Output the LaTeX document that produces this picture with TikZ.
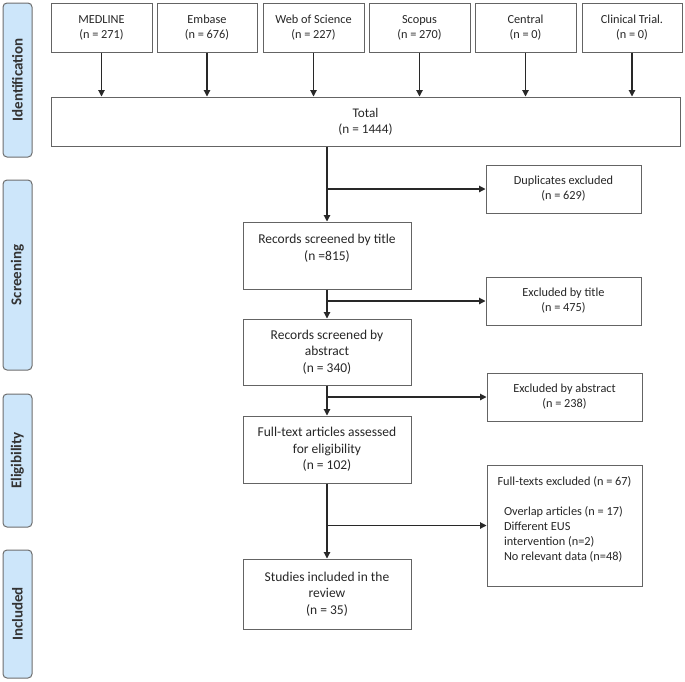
\documentclass[tikz,border=0pt]{standalone}
\usepackage{fontspec}
\setmainfont{Carlito}
\usetikzlibrary{arrows.meta,calc}
\definecolor{sidefill}{RGB}{205,230,250}
\definecolor{sideline}{RGB}{110,110,110}
\definecolor{boxline}{RGB}{100,100,100}
\definecolor{arrline}{RGB}{40,40,40}
\tikzset{
  side/.style={draw=sideline, fill=sidefill, rounded corners=4pt, line width=1pt,
    rotate=90, minimum height=29pt, inner sep=0pt,
    font=\fontsize{15}{17}\selectfont\bfseries, text=black!80},
  bx/.style={draw=boxline, line width=1pt, align=center, inner sep=0pt,
    font=\fontsize{12.3}{15}\selectfont, text=black!85},
  bxt/.style={bx, font=\fontsize{13.2}{16}\selectfont},
  bxb/.style={bx, font=\fontsize{13.5}{16.5}\selectfont},
  arr/.style={draw=arrline, line width=1.1pt, -{Triangle[length=6.5pt,width=6.5pt]}},
}
\begin{document}
\begin{tikzpicture}[x=1pt,y=-1pt]
\useasboundingbox (0,0) rectangle (685,681);
% side labels
\node[side, minimum width=154pt] (sid) at (17.5,80) {Identification};
\node[side, minimum width=190pt] (ssc) at (17.5,275) {Screening};
\node[side, minimum width=133pt] (sel) at (17.5,460.5) {Eligibility};
\node[side, minimum width=128pt] (sin) at (17.5,614) {Included};
% sources
\node[bx, minimum width=101pt, minimum height=49pt] (med) at (101.5,27.5) {MEDLINE\\(n = 271)};
\node[bx, minimum width=100pt, minimum height=49pt] (emb) at (207,27.5) {Embase\\(n = 676)};
\node[bx, minimum width=101pt, minimum height=49pt] (wos) at (313.5,27.5) {Web of Science\\(n = 227)};
\node[bx, minimum width=101pt, minimum height=49pt] (sco) at (419.5,27.5) {Scopus\\(n = 270)};
\node[bx, minimum width=101pt, minimum height=49pt] (cen) at (525.5,27.5) {Central\\(n = 0)};
\node[bx, minimum width=100pt, minimum height=49pt] (cli) at (632,27.5) {Clinical Trial.\\(n = 0)};
% total
\node[bxt, minimum width=629pt, minimum height=49pt] (tot) at (365.5,121.5) {Total\\(n = 1444)};
% main column
\node[bxb, minimum width=168pt, minimum height=67pt] (tit) at (327,255.5) {Records screened by title\\(n =815)\\\mbox{}};
\node[bxb, minimum width=168pt, minimum height=66pt] (abs) at (327,352) {Records screened by\\abstract\\(n = 340)};
\node[bxb, minimum width=168pt, minimum height=67pt] (ful) at (327,449.5) {Full-text articles assessed\\for eligibility\\(n = 102)};
\node[bxb, minimum width=168pt, minimum height=70pt] (stu) at (327,594) {Studies included in the\\review\\(n = 35)};
% exclusions
\node[bx, minimum width=155pt, minimum height=48pt] (dup) at (563.5,189) {Duplicates excluded\\(n = 629)};
\node[bx, minimum width=155pt, minimum height=48pt] (ext) at (563.5,301) {Excluded by title\\(n = 475)};
\node[bx, minimum width=155pt, minimum height=48pt] (exa) at (564.5,397) {Excluded by abstract\\(n = 238)};
\node[bx, align=left, minimum width=155pt, minimum height=121pt] (exf) at (564.5,525.5)
  {\makebox[155pt][c]{Full-texts excluded (n = 67)}\\\mbox{}\\
   \hspace*{17pt}Overlap articles (n = 17)\\
   \hspace*{17pt}Different EUS\\
   \hspace*{17pt}intervention (n=2)\\
   \hspace*{17pt}No relevant data (n=48)\\\mbox{}};
% arrows
\foreach \s in {med,emb,wos,sco,cen,cli}
  \draw[arr] (\s.south) -- (\s.south |- tot.north);
\draw[arr] (tit.north |- tot.south) -- (tit.north);
\draw[arr] (tit.north |- dup.west) -- (dup.west);
\draw[arr] (tit.south) -- (abs.north);
\draw[arr] (tit.south |- ext.west) -- (ext.west);
\draw[arr] (abs.south) -- (ful.north);
\draw[arr] (abs.south |- exa.west) -- (exa.west);
\draw[arr] (ful.south) -- (stu.north);
\draw[arr] (ful.south |- exf.west) -- (exf.west);
\end{tikzpicture}
\end{document}
